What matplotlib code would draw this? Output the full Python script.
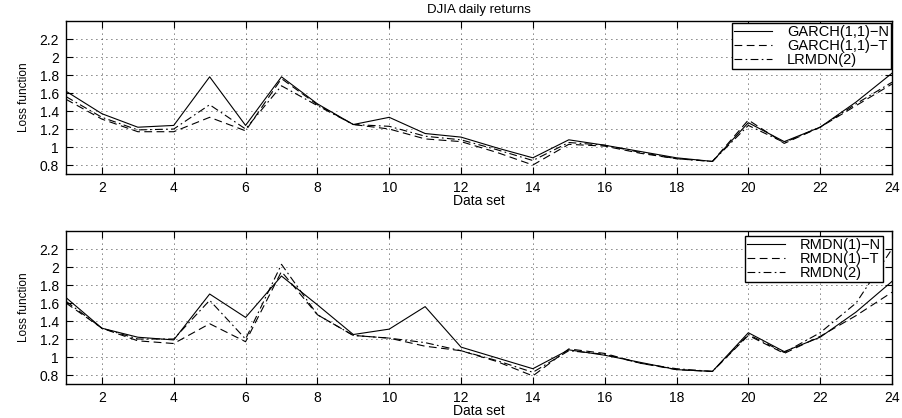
import matplotlib
matplotlib.use("Agg")
import matplotlib.pyplot as plt
import numpy as np

plt.rcParams['font.family'] = ['Liberation Sans', 'DejaVu Sans']

data_set = np.arange(1, 25)

# top panel: DJIA daily returns
garch_n = [1.62, 1.37, 1.22, 1.24, 1.78, 1.24, 1.78, 1.48, 1.25, 1.33, 1.15, 1.11,
           0.99, 0.88, 1.08, 1.02, 0.95, 0.88, 0.84, 1.27, 1.06, 1.22, 1.50, 1.82]
garch_t = [1.53, 1.31, 1.17, 1.17, 1.33, 1.18, 1.76, 1.47, 1.25, 1.20, 1.09, 1.06,
           0.94, 0.80, 1.03, 1.01, 0.93, 0.87, 0.84, 1.30, 1.04, 1.22, 1.46, 1.70]
lrmdn_2 = [1.56, 1.33, 1.19, 1.20, 1.47, 1.20, 1.68, 1.46, 1.25, 1.23, 1.12, 1.08,
           0.97, 0.85, 1.05, 1.02, 0.94, 0.87, 0.84, 1.24, 1.05, 1.22, 1.48, 1.72]

# bottom panel
rmdn1_n = [1.66, 1.32, 1.22, 1.19, 1.70, 1.44, 1.90, 1.58, 1.25, 1.31, 1.56, 1.11,
           0.99, 0.87, 1.08, 1.02, 0.94, 0.86, 0.84, 1.27, 1.06, 1.22, 1.50, 1.84]
rmdn1_t = [1.60, 1.32, 1.18, 1.15, 1.37, 1.17, 1.95, 1.47, 1.24, 1.21, 1.12, 1.07,
           0.95, 0.79, 1.09, 1.04, 0.93, 0.86, 0.84, 1.24, 1.04, 1.23, 1.46, 1.72]
rmdn_2 = [1.62, 1.32, 1.20, 1.20, 1.63, 1.20, 2.03, 1.47, 1.24, 1.21, 1.16, 1.07,
          0.96, 0.83, 1.07, 1.03, 0.93, 0.87, 0.84, 1.25, 1.05, 1.27, 1.60, 2.20]

xticks = list(range(2, 25, 2))
yticks = [0.8, 1, 1.2, 1.4, 1.6, 1.8, 2, 2.2]
ytick_labels = ['0.8', '1', '1.2', '1.4', '1.6', '1.8', '2', '2.2']

panels = [
    ([garch_n, garch_t, lrmdn_2], ['GARCH(1,1)\u2212N', 'GARCH(1,1)\u2212T', 'LRMDN(2)']),
    ([rmdn1_n, rmdn1_t, rmdn_2], ['RMDN(1)\u2212N', 'RMDN(1)\u2212T', 'RMDN(2)']),
]
styles = ['-', (0, (7, 4)), (0, (7, 3, 1.5, 3))]
legend_anchor = [(0.9988, 0.987), (0.989, 0.967)]

fig = plt.figure(figsize=(9.03, 4.18), dpi=100)
positions = [[0.0731, 0.5837, 0.9147, 0.366], [0.0731, 0.0813, 0.9147, 0.366]]

for i, (pos, (series, labels)) in enumerate(zip(positions, panels)):
    ax = fig.add_axes(pos)
    for s, lab, ls in zip(series, labels, styles):
        ax.plot(data_set, s, color='black', linestyle=ls, linewidth=0.8, label=lab)
    ax.set_xlim(1, 24)
    ax.set_ylim(0.7, 2.4)
    ax.set_xticks(xticks)
    ax.set_yticks(yticks)
    ax.set_yticklabels(ytick_labels)
    ax.grid(True, color='black', linestyle=(0, (1, 5)), linewidth=0.6)
    ax.tick_params(direction='in', top=True, right=True, labelsize=10, length=5, width=0.8, pad=5)
    for sp in ax.spines.values():
        sp.set_linewidth(1.0)
    ax.set_ylabel('Loss function', fontsize=8.5, labelpad=7)
    ax.set_xlabel('Data set', fontsize=10, labelpad=-1)
    leg = ax.legend(loc='upper right', bbox_to_anchor=legend_anchor[i],
                    fontsize=10.5, frameon=True, fancybox=False, edgecolor='black',
                    framealpha=1, borderpad=0.15, labelspacing=0.0, handlelength=2.6,
                    handletextpad=1.0, borderaxespad=0)
    leg.get_frame().set_linewidth(1.0)
    if i == 0:
        ax.set_title('DJIA daily returns', fontsize=9.5, pad=6)

fig.savefig('out.png', dpi=100)
